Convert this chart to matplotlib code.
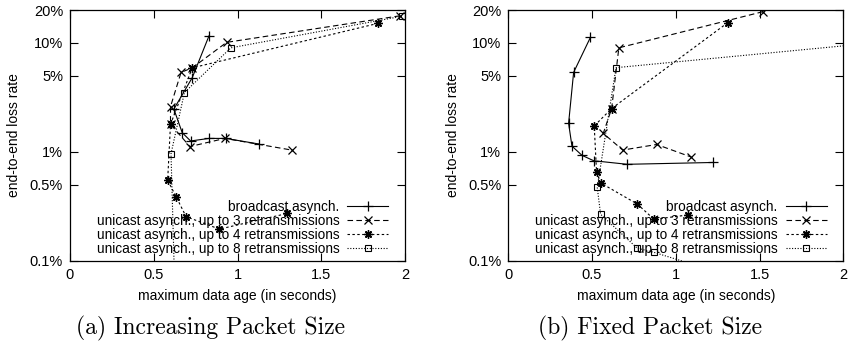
import numpy as np
import matplotlib
matplotlib.use("Agg")
from matplotlib import pyplot as plt

plt.rcParams['font.family'] = ['Liberation Sans', 'DejaVu Sans']

# (a) increasing packet size
bc_a_x = [0.83, 0.73, 0.62, 0.67, 0.72, 0.83, 0.93, 1.13]
bc_a_y = [11.6, 4.8, 2.47, 1.50, 1.26, 1.33, 1.33, 1.18]
u3_a_x = [1.97, 0.935, 0.73, 0.663, 0.60, 0.60, 0.716, 0.925, 1.323]
u3_a_y = [17.7, 10.1, 5.9, 5.36, 2.6, 1.79, 1.12, 1.33, 1.04]
u4_a_x = [1.84, 0.73, 0.60, 0.583, 0.633, 0.693, 0.892, 1.298]
u4_a_y = [15.1, 5.9, 1.79, 0.55, 0.39, 0.255, 0.196, 0.273]
u8_a_x = [1.98, 0.96, 0.683, 0.603, 0.625]
u8_a_y = [17.5, 9.0, 3.5, 0.96, 0.06]

# (b) fixed packet size
bc_b_x = [0.49, 0.39, 0.36, 0.38, 0.44, 0.51, 0.71, 1.22]
bc_b_y = [11.2, 5.36, 1.83, 1.13, 0.93, 0.83, 0.77, 0.80]
u3_b_x = [1.52, 0.66, 0.617, 0.567, 0.683, 0.886, 1.09]
u3_b_y = [19.3, 9.0, 2.5, 1.48, 1.04, 1.17, 0.90]
u4_b_x = [1.31, 0.617, 0.513, 0.527, 0.551, 0.77, 0.87, 1.07]
u4_b_y = [15.3, 2.5, 1.73, 0.65, 0.52, 0.333, 0.241, 0.264]
u8_b_x = [2.6, 0.643, 0.531, 0.551, 0.77, 0.87, 1.3]
u8_b_y = [11.5, 5.92, 0.473, 0.268, 0.131, 0.120, 0.075]

labels = ['broadcast asynch.',
          'unicast asynch., up to 3 retransmissions',
          'unicast asynch., up to 4 retransmissions',
          'unicast asynch., up to 8 retransmissions']
yticks = [0.1, 0.5, 1, 5, 10, 20]
yticklabels = ['0.1%', '0.5%', '1%', '5%', '10%', '20%']
xticks = [0, 0.5, 1, 1.5, 2]
xticklabels = ['0', '0.5', '1', '1.5', '2']
captions = ['(a) Increasing Packet Size', '(b) Fixed Packet Size']

styles = [
    dict(ls='-', marker='+', ms=7, mew=0.9),
    dict(ls=(0, (5, 3)), marker='x', ms=5.5, mew=0.9),
    dict(ls=(0, (2.2, 2.2)), marker=(8, 2, 0), ms=6, mew=1.0),
    dict(ls=(0, (1, 1.5)), marker='s', ms=5, mew=0.8, mfc='none'),
]

fig = plt.figure(figsize=(8.51, 3.46), dpi=100)
axes = [fig.add_axes([70/851, 85/346, 335/851, 251/346]),
        fig.add_axes([508.3/851, 85/346, 335/851, 251/346])]
data = [[(bc_a_x, bc_a_y), (u3_a_x, u3_a_y), (u4_a_x, u4_a_y), (u8_a_x, u8_a_y)],
        [(bc_b_x, bc_b_y), (u3_b_x, u3_b_y), (u4_b_x, u4_b_y), (u8_b_x, u8_b_y)]]
cap_x = [210/851, 650/851]

for ax, series, cap, cx in zip(axes, data, captions, cap_x):
    for (x, y), st, lab in zip(series, styles, labels):
        ax.plot(x, y, color='black', lw=0.8, label=lab, **st)
    ax.set_yscale('log')
    ax.set_xlim(0, 2)
    ax.set_ylim(0.1, 20)
    ax.set_yticks(yticks)
    ax.set_yticklabels(yticklabels)
    ax.yaxis.set_minor_locator(matplotlib.ticker.NullLocator())
    ax.set_xticks(xticks)
    ax.set_xticklabels(xticklabels)
    ax.tick_params(direction='in', length=6, width=0.8, top=True, right=True,
                   labelsize=10.5, pad=5)
    for s in ax.spines.values():
        s.set_linewidth(0.9)
    ax.set_xlabel('maximum data age (in seconds)', fontsize=10, labelpad=5)
    ax.set_ylabel('end-to-end loss rate', fontsize=10, labelpad=6)
    leg = ax.legend(loc='lower right', bbox_to_anchor=(0.95, 0.02), frameon=False,
                    markerfirst=False, fontsize=9.8, handlelength=3.0,
                    handletextpad=0.6, labelspacing=0.0, borderpad=0,
                    borderaxespad=0, numpoints=1)
    fig.text(cx, 18/346, cap, family='cmr10', fontsize=17, ha='center', va='center')

fig.savefig('out.png', dpi=100)
